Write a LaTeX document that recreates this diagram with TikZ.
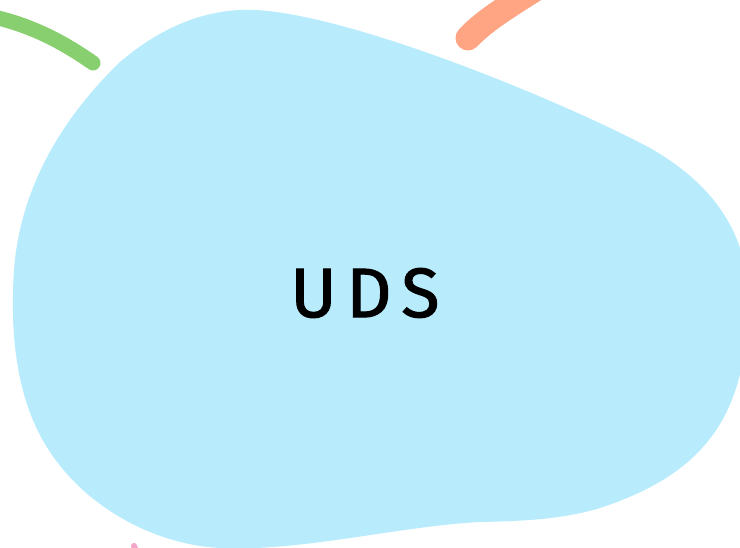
\documentclass[tikz,border=0pt]{standalone}
\usepackage{fontspec}
\setmainfont{Fira Sans}
\newfontfamily\udsfont[FakeBold=1.5, LetterSpace=14]{Fira Sans}
\definecolor{blobblue}{HTML}{B8ECFD}
\definecolor{strokegreen}{HTML}{88D06F}
\definecolor{strokeorange}{HTML}{FFA584}
\definecolor{strokepink}{HTML}{F4A6C8}
\tikzset{
  brush/.style={line cap=round, line join=round},
  labeltext/.style={font=\udsfont\fontsize{70}{72}\selectfont, text=black}
}
\begin{document}
\begin{tikzpicture}[x=1pt,y=-1pt]
\useasboundingbox (0,0) rectangle (740,547);
\fill[white] (0,0) rectangle (740,547);
% blob
\fill[blobblue] (240,10) .. controls (330,5) and (560,100) .. (650,148)
  .. controls (720,188) and (748,240) .. (748,300)
  .. controls (748,420) and (700,475) .. (600,508)
  .. controls (560,520) and (520,521) .. (480,522)
  .. controls (400,526) and (300,552) .. (220,548)
  .. controls (160,545) and (90,512) .. (50,452)
  .. controls (15,400) and (10,330) .. (14,270)
  .. controls (20,190) and (60,120) .. (120,62)
  .. controls (160,28) and (200,12) .. (240,10) -- cycle;
% strokes
\draw[brush, strokegreen, line width=15pt] (-10,16) .. controls (30,25) and (60,40) .. (93,63);
\draw[brush, strokeorange, line width=25pt] (468,38) .. controls (485,20) and (510,5) .. (540,-14);
\draw[brush, strokepink, line width=6pt] (134,546) -- (138,556);
\node[labeltext] (uds) at (365,293) {UDS};
\end{tikzpicture}
\end{document}
